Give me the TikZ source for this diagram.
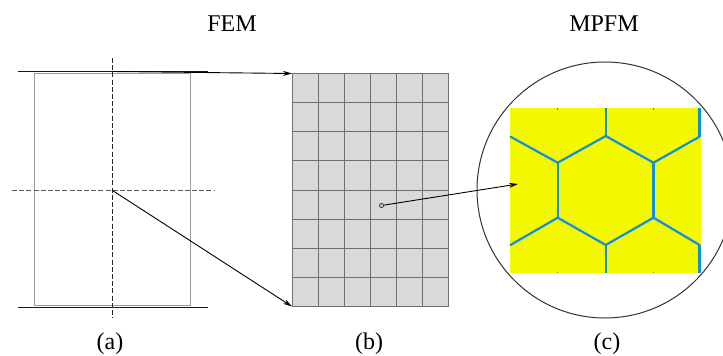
\documentclass[tikz,border=0pt]{standalone}
\usepackage{fontspec}
\setmainfont{Liberation Serif}
\usetikzlibrary{arrows.meta}
\definecolor{gridgray}{HTML}{707070}
\definecolor{cellgray}{HTML}{D9D9D9}
\definecolor{boxgray}{HTML}{9A9A9A}
\definecolor{phaseyellow}{HTML}{F4F900}
\definecolor{wallblue}{HTML}{1090D8}
\tikzset{
  lab/.style={font=\fontsize{24}{28}\selectfont, inner sep=0pt, anchor=center},
  axisline/.style={black!85, line width=1pt, dash pattern=on 5pt off 2.2pt},
  plate/.style={black!90, line width=1pt},
  link/.style={black, line width=0.9pt, -{Stealth[length=9pt,width=5pt]}},
  wall/.style={wallblue, line width=2.2pt, line cap=round},
  tick/.style={black!50!phaseyellow, line width=0.8pt}
}
\begin{document}
\begin{tikzpicture}[x=1pt,y=-1pt]
\clip (0,0) rectangle (723,356);
\fill[white] (0,0) rectangle (723,356);
% (a)
\draw[boxgray, line width=1pt] (34.5,73.5) rectangle (190.5,305.5);
\coordinate (pt1) at (18,71.5);   \coordinate (pt2) at (208,71.5);
\coordinate (pb1) at (18,307.5);  \coordinate (pb2) at (208,307.5);
\draw[plate] (pt1) -- (pt2);
\draw[plate] (pb1) -- (pb2);
\coordinate (v1) at (112.5,58); \coordinate (v2) at (112.5,318);
\coordinate (h1) at (12,190.5);   \coordinate (h2) at (214,190.5);
\draw[axisline] (v1) -- (v2);
\draw[axisline, black!65] (h1) -- (h2);
\coordinate (top) at (112.5,71.5); \coordinate (mid) at (112.5,190.5);
% (b)
\fill[cellgray] (292.5,73.5) rectangle (448.5,306.5);
\draw[gridgray, line width=0.9pt, xstep=26pt, ystep=29.125pt, shift={(292.5pt,-73.5pt)}] (0,0) grid (156,233);
\draw[gridgray, line width=0.9pt] (292.5,73.5) rectangle (448.5,306.5);
\coordinate (gt) at (292,73.5); \coordinate (gb) at (292,306.5);
\node[draw=black!85, circle, line width=0.8pt, minimum size=4pt, inner sep=0pt] (probe) at (381.5,205.5) {};
% (c)
\node[draw=black!80, circle, line width=1pt, minimum size=256pt, inner sep=0pt] (zoomc) at (605,190) {};
\fill[phaseyellow] (510,108) rectangle (701,273);
\foreach \x in {557.7,653.5}{
  \draw[tick] (\x,108) -- (\x,109.5);
  \draw[tick] (\x,273) -- (\x,271.5);
}
\draw[wall] (510.5,136.7) -- (557.7,162.7) -- (605.7,136) -- (653.5,162.7) -- (699.5,136.7);
\draw[wall] (510.5,245) -- (557.7,217.7) -- (605.7,245) -- (653.5,217.7) -- (699.5,245);
\foreach \x/\a/\b in {605.7/108/136,699.5/108/136.7,557.7/162.7/217.7,653.5/162.7/217.7,605.7/245/273,699.5/245/273}{
  \draw[wall, line cap=butt] (\x,\a) -- (\x,\b);
}
\coordinate (ct) at (518,184);
% connectors
\draw[link] (top) -- (gt);
\draw[link] (mid) -- (gb);
\draw[link] (probe) -- (ct);
% labels
\node[lab] (l1) at (232,24) {FEM};
\node[lab] (l2) at (604,24) {MPFM};
\node[lab] (la) at (110,343.5) {(a)};
\node[lab] (lb) at (369,343.5) {(b)};
\node[lab] (lc) at (607,343.5) {(c)};
\end{tikzpicture}
\end{document}
